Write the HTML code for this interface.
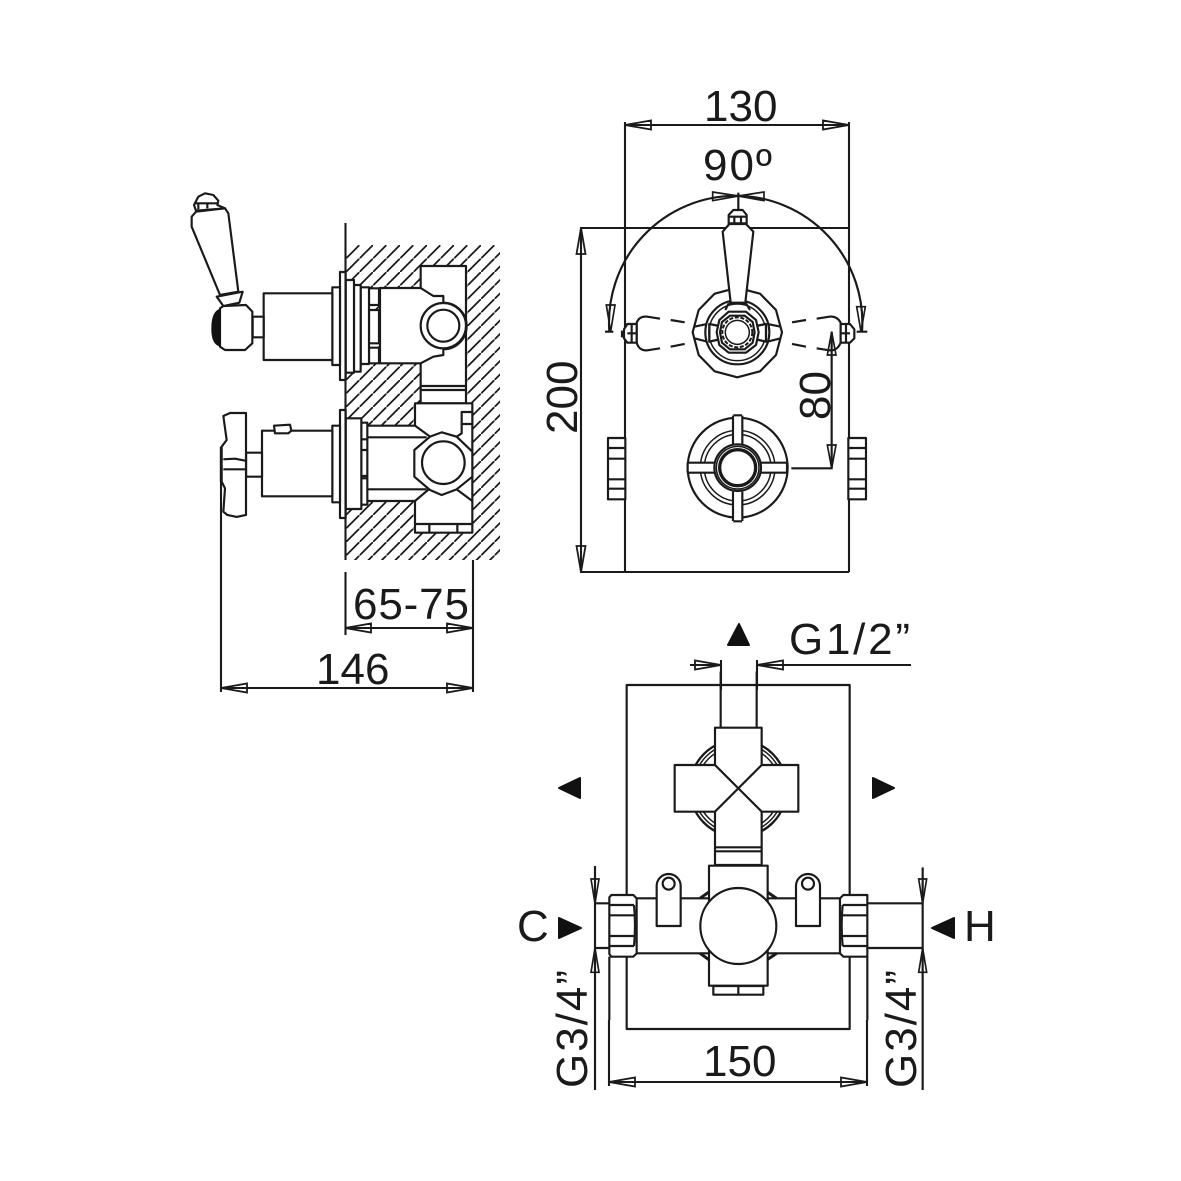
<!DOCTYPE html>
<html>
<head>
<meta charset="utf-8">
<style>
html,body{margin:0;padding:0;background:#fff;}
svg{display:block;}
text{font-family:"Liberation Sans",sans-serif;fill:#1a1a1a;stroke:none;font-size:44px;}
.l{fill:none;stroke:#1a1a1a;stroke-width:2.1;}
.z{fill:#fff;stroke:#1a1a1a;stroke-width:6.5;stroke-linejoin:round;}
.n{fill:none;stroke:#1a1a1a;stroke-width:6.5;stroke-linejoin:round;}
.t{fill:none;stroke:#1a1a1a;stroke-width:4.5;}
.a{fill:#fff;stroke:#1a1a1a;stroke-width:1.8;stroke-linejoin:miter;}
.az{fill:#fff;stroke:#1a1a1a;stroke-width:5;stroke-linejoin:miter;}
.b{fill:#111;stroke:#111;stroke-width:2;stroke-linejoin:round;}
</style>
</head>
<body>
<svg width="1181" height="1181" viewBox="0 0 1181 1181" xmlns="http://www.w3.org/2000/svg">
<defs>
<pattern id="h" width="13.500" height="13.500" patternUnits="userSpaceOnUse" patternTransform="translate(346 245)">
<line x1="-1" y1="14.500" x2="14.500" y2="-1" stroke="#1a1a1a" stroke-width="1.8"/>
</pattern>
</defs>

<!-- SIDE VIEW hatch -->
<rect x="346" y="245" width="154" height="315" fill="url(#h)"/>

<g transform="translate(170 180) scale(.33333)">
  <!-- upper valve -->
  <path class="z" d="M752 258H888V670H752V548L752 258Z"/>
  <path class="n" d="M752 618H888M752 630H888"/>
  <path class="z" d="M630 324H752L790 348H820V368A68 68 0 0 1 820 508V525L790 530L752 550H630Z"/>
  <circle class="z" cx="820" cy="437" r="68"/>
  <circle class="z" cx="820" cy="437" r="48"/>
  <rect class="z" x="597" y="325" width="30" height="50"/>
  <rect class="z" x="597" y="390" width="30" height="100"/>
  <rect class="z" x="597" y="503" width="30" height="47"/>
  <rect class="z" x="572" y="322" width="25" height="230"/>
  <rect class="z" x="552" y="315" width="20" height="260"/>
  <rect class="z" x="527" y="300" width="25" height="278"/>
  <rect class="z" x="510" y="276" width="17" height="324"/>
  <rect class="z" x="487" y="322" width="23" height="233"/>
  <rect class="z" x="281" y="340" width="206" height="200"/>
  <rect class="z" x="248" y="410" width="33" height="62"/>
  <!-- lever -->
  <path class="z" d="M160 378L228 375L247 395V490L225 510H165L150 500V385Z"/>
  <path d="M150 388C130 395 126 420 126 445C126 470 130 492 150 498Z" fill="#111" stroke="#111" stroke-width="4"/>
  <path class="z" d="M140 350L218 335L208 368L160 378Z"/>
  <path class="z" d="M65 110L78 95L165 85L175 100L205 335L150 345L65 140Z"/>
  <path class="z" d="M78 92L72 75L85 50L105 40L130 45L145 62L142 75L165 85Z"/>
  <path class="n" d="M72 70H145M85 70V88M112 68V85"/>

  <!-- lower valve -->
  <path class="z" d="M735 670H907V1058H735Z"/>
  <path class="n" d="M735 1032H907M778 1032V1058M862 1032V1058"/>
  <path class="z" d="M875 696H907V732H875Z"/>
  <path class="n" d="M875 732V760L860 770"/>
  <path class="z" d="M590 737H735L780 770V925L735 963H590Z"/>
  <path class="n" d="M590 772H770M590 928H770"/>
  <path class="z" d="M780 770L815 757L860 770L907 815V890L860 928L815 945L780 930L733 890V810Z"/>
  <path class="n" d="M860 928L907 963"/>
  <circle class="z" cx="820" cy="848" r="64"/>
  <rect class="z" x="574" y="728" width="18" height="246"/>
  <path class="n" d="M574 778H592M574 810H592M574 888H592M574 895H592"/>
  <rect class="z" x="527" y="715" width="47" height="272"/>
  <rect class="z" x="510" y="690" width="17" height="324"/>
  <rect class="z" x="487" y="737" width="23" height="230"/>
  <rect class="z" x="276" y="752" width="211" height="197"/>
  <path class="z" d="M312 737L360 734L364 752L355 760H315Z"/>
  <path class="z" d="M228 818H276V890H228Z"/>
  <path class="n" d="M228 818V890"/>
  <path class="z" d="M160 708L180 699H228V1005L200 1011L172 1005L160 995L165 925L155 905V800L170 780Z"/>
  <path class="n" d="M160 838L195 836L226 842M160 868H226"/>
  <path class="t" d="M153 800V905" style="stroke-width:7"/>
</g>
<!-- wall line -->
<path class="l" d="M345.500 223V560M345.500 572V635"/>

<!-- Side dims -->
<path class="a" d="M345 628L371 623.500V632.500ZM473 628L447 623.500V632.500ZM221 688L247 683.500V692.500ZM473 688L447 683.500V692.500Z"/>
<path class="l" d="M221 450V692M473 560V692M345 628H473M221 688H473"/>
<text x="353" y="619" textLength="116" lengthAdjust="spacing">65-75</text>
<text x="316" y="684">146</text>

<!-- FRONT VIEW -->
<path class="a" d="M625 125L651 120.500V129.500ZM849 125L823 120.500V129.500ZM581 228L576.500 254H585.500ZM581 572L576.500 546H585.500Z"/>
<path class="l" d="M625 122V572M849 122V572M580 228H849M580 572H849M581 228V572M625 125H849"/>
<text x="704" y="121">130</text>
<text x="703" y="180" textLength="69" lengthAdjust="spacing">90º</text>
<text transform="translate(577 434) rotate(-90)">200</text>

<g transform="translate(570 170) scale(.33333)">
  <!-- arc -->
  <path class="az" d="M505 78L428 66V92ZM505 78L582 66V92ZM122 485L109 405H135ZM873 485L860 410H886Z"/>
  <path class="n" d="M118 485A380 380 0 1 1 876 485M105 485H130M860 485H892M505 68V118"/>
  <!-- arrow 80 -->
  <path class="az" d="M785 485L772 555H798ZM785 895L772 825H798Z"/>
  <path class="n" d="M785 485V895M664 895H788"/>

  <!-- upper rosette -->
  <path class="z" d="M502 353L570 371L618 420L636 487L618 555L570 604L502 622L434 604L386 555L368 487L386 420L434 371Z"/>
  <path class="n" d="M373 470L412 462M373 505L412 515M632 470L592 462M632 505L592 515"/>
  <circle class="z" cx="502" cy="487" r="96"/>
  <circle class="t" cx="502" cy="487" r="85"/>
  <path class="z" d="M418 462L448 468V508L418 515ZM588 462L558 468V508L588 515Z" style="stroke-width:7"/>
  <path class="z" d="M476 425H528L558 450L566 487L558 525L528 548H476L448 525L440 487L448 450Z"/>
  <path class="n" d="M480 437H524L548 456L554 487L548 518L524 538H480L456 518L450 487L456 456Z"/>
  <circle class="t" cx="502" cy="487" r="45" style="stroke-dasharray:12 5;stroke-width:6"/>
  <circle class="z" cx="502" cy="487" r="36" style="stroke-width:4.500"/>
  <!-- handle up -->
  <path class="z" d="M482 398L458 185L478 162H528L550 185L526 398Z"/>
  <path class="z" d="M476 160V135L490 120H518L530 135V160Z"/>
  <path class="n" d="M476 140H530M493 140V158M513 140V158"/>
  <path class="n" d="M476 400H528L540 420M476 400L466 420"/>
  <!-- dashed handles -->
  <path class="n" d="M344 457L302 450M270 446L232 440C215 438 205 445 200 458V518C205 535 215 542 232 541L270 535M302 530L344 522"/>
  <path class="n" d="M666 457L708 450M740 446L778 440C795 438 805 445 812 458V518C805 535 795 542 778 541L740 535M708 530L666 522"/>
  <path class="z" d="M200 462H172L162 478V505L172 518H200Z"/>
  <path class="n" d="M185 462V518M172 490H200M156 482V502"/>
  <path class="z" d="M812 462H840L853 478V505L840 518H812Z"/>
  <path class="n" d="M828 462V518M812 490H840"/>

  <!-- lower rosette -->
  <circle class="z" cx="503" cy="893" r="150"/>
  <circle class="t" cx="503" cy="893" r="112"/>
  <circle class="t" cx="503" cy="893" r="100"/>
  <path class="z" style="stroke:none" d="M489 735H517V1055H489ZM352 878H652V908H352Z"/>
  <path class="n" d="M489 737V825M517 737V825M489 965V1053M517 965V1053M490 736H516M490 1054H516M353 878H432M353 908H432M572 878H651M572 908H651M353 878V908M651 878V908"/>
  <circle class="z" cx="503" cy="893" r="70"/>
  <circle class="t" cx="503" cy="893" r="64"/>
  <circle cx="503" cy="893" r="54" fill="#fff" stroke="#1a1a1a" stroke-width="10"/>

  <!-- side nuts -->
  <path class="z" d="M166 804H114V988H166Z"/>
  <path class="n" d="M114 834H166M114 866H166M114 928H166M114 956H166"/>
  <path class="z" d="M835 804H888V988H835Z"/>
  <path class="n" d="M835 834H888M835 866H888M835 928H888M835 956H888"/>
</g>
<text transform="translate(830 420) rotate(-90)">80</text>

<!-- PLAN VIEW -->
<g transform="translate(590 680) scale(.33333)">
  <path class="n" d="M110 645V15H779V645M110 830V1047H779V830M58 830V1020M832 830V1020"/>
  <path class="n" d="M392 -25V143M500 -25V143"/>
  <!-- knob rings -->
  <circle class="n" cx="445" cy="325" r="146" style="stroke-width:7"/>
  <circle class="t" cx="445" cy="325" r="136"/>
  <circle class="t" cx="445" cy="325" r="126"/>
  <!-- cross -->
  <path class="z" d="M375 143H515V255H625V395H515V555H375V395H254V255H375Z"/>
  <path class="n" d="M375 255L515 395M515 255L375 395M375 502H515M375 514H515"/>
  <!-- body -->
  <path class="z" d="M135 655H750V820H135Z"/>
  <path class="n" d="M358 635L330 655M530 635L560 655M358 840L330 820M530 840L560 820" style="stroke-width:9"/>
  <rect class="z" x="357" y="557" width="176" height="360"/>
  <path class="z" d="M370 918H520V944H370Z"/>
  <path class="n" d="M445 918V944"/>
  <circle class="z" cx="445" cy="738" r="114"/>
  <path class="z" d="M200 738V618A36 36 0 0 1 272 618V738Z"/>
  <circle class="z" cx="236" cy="611" r="18"/>
  <path class="z" d="M618 738V618A36 36 0 0 1 690 618V738Z"/>
  <circle class="z" cx="654" cy="611" r="18"/>
  <!-- nuts -->
  <path class="z" d="M64 645H130L140 655V820L130 830H64L58 822V652Z"/>
  <path class="n" d="M58 675H132M58 706H132M58 768H132M58 798H132M132 675Q138 737 132 798"/>
  <path class="z" d="M760 645H832V830H760L750 820V655Z"/>
  <path class="n" d="M758 675H832M758 706H832M758 768H832M758 798H832M758 675Q752 737 758 798"/>
  <!-- G3/4 dims -->
  <path class="az" d="M15 670L3 597H27ZM15 804L3 877H27ZM998 670L986 597H1010ZM998 804L986 877H1010Z"/>
  <path class="n" d="M15 670H58M15 804H58M832 670H1000M832 804H1000M15 558V1230M998 562V1230"/>
</g>

<!-- G1/2 dim -->
<path class="a" d="M721 665L695 660.500V669.500ZM757 665L783 660.500V669.500Z"/>
<path class="l" d="M690 665H721M757 665H911"/>
<path class="l" d="M721 660V690M757 660V690"/>
<text x="789" y="654" textLength="121" lengthAdjust="spacing">G1/2”</text>

<!-- 150 dim -->
<path class="a" d="M609 1082L635 1077.500V1086.500ZM867 1082L841 1077.500V1086.500Z"/>
<path class="l" d="M609 1082H867M609 1020V1086M867 1020V1086"/>
<text x="703" y="1076">150</text>

<!-- rotated labels -->
<text transform="translate(587 1088) rotate(-90)" textLength="118" lengthAdjust="spacing">G3/4”</text>
<text transform="translate(916 1088) rotate(-90)" textLength="118" lengthAdjust="spacing">G3/4”</text>

<!-- black triangles -->
<path class="b" d="M739 624L749 645H728Z"/>
<path class="b" d="M559 788L580 778V798Z"/>
<path class="b" d="M894 788L873 778V798Z"/>
<path class="b" d="M581 928L559 918V938Z"/>
<path class="b" d="M932 928L954 918V938Z"/>
<text x="517" y="941">C</text>
<text x="964" y="941">H</text>
</svg>
</body>
</html>
